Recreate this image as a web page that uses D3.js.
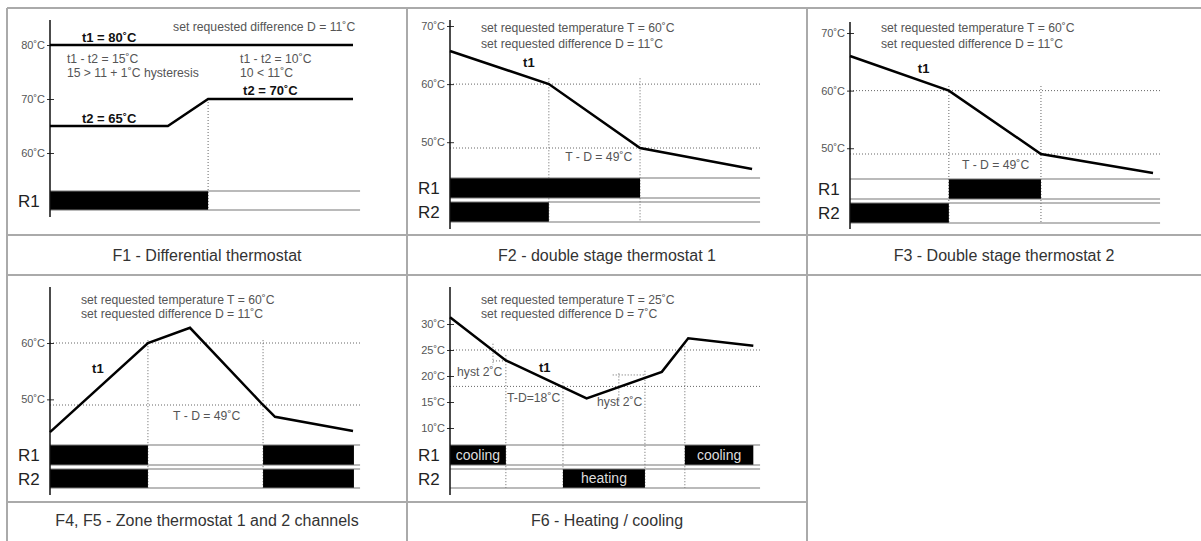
<!DOCTYPE html>
<html><head><meta charset="utf-8">
<script src="https://cdn.jsdelivr.net/npm/d3@7"></script>
<style>body{margin:0;background:#fff}svg{display:block;font-family:"Liberation Sans",Arial,sans-serif}</style>
</head><body>
<script>
// ---------- DATA (time t in % of diagram width, v in °C) ----------
const f1Ticks=[80,70,60];
const f1T1=[[0,80],[98.7,80]];
const f1T2=[[0,65],[38.4,65],[51.5,70],[98.7,70]];
const f1R1=[[0,51.5]];
const f1Guides=[[51.5,70]];
const f1HLines=[];

const f2Ticks=[70,60,50];
const f2T1=[[0,65.7],[32.2,60],[61.9,49],[98.4,45.4]];
const f2R1=[[0,61.9]];
const f2R2=[[0,32.2]];
const f2Guides=[[32.2,61],[61.9,61]];
const f2HLines=[60,49];

const f3Ticks=[70,60,50];
const f3T1=[[0,66.0],[32.2,60],[62.2,49],[98.7,45.7]];
const f3R1=[[32.2,62.2]];
const f3R2=[[0,32.2]];
const f3Guides=[[32.2,60.8],[62.2,60.8]];
const f3HLines=[60,49];

const f4Ticks=[60,50];
const f4T1=[[0,44.2],[31.9,60],[45.6,62.7],[69.4,49],[73.3,46.9],[98.7,44.4]];
const f4R1=[[0,31.9],[69.4,99]];
const f4R2=[[0,31.9],[69.4,99]];
const f4Guides=[[31.9,60.5],[69.4,60.5]];
const f4HLines=[60,49];

const f6Ticks=[30,25,20,15,10];
const f6T1=[[0,31.3],[18.2,23],[44.5,15.7],[69,20.8],[77.6,27.25],[98.8,25.8]];
const f6R1=[[0,18.2,"cooling"],[76.5,98.8,"cooling"]];
const f6R2=[[36.8,63.5,"heating"]];
const f6Guides=[[18.2,24],[36.8,18.8],[63.5,21],[76.5,26.3]];
const f6HLines=[25,18];
const f6Hyst=[[[14,26.2],[14,22.1]],[[14,22.9],[18.2,22.9]],[[55,20.5],[55,15.1]],[[53,20.2],[63.5,20.2]]];

const captions=["F1 - Differential thermostat","F2 - double stage thermostat 1","F3 - Double stage thermostat 2","F4, F5 - Zone thermostat 1 and 2 channels","F6 - Heating / cooling"];

// ---------- LAYOUT ----------
const W=1201,H=541;
const svg=d3.select("body").append("svg").attr("width",W).attr("height",H);
const colX=[7,407,807];
const grid="#aaa";

[[7,8,1201,8],[7,235,1201,235],[7,275,1201,275],[7,502,807,502],
 [7,8,7,541],[407,8,407,541],[807,8,807,541]].forEach(l=>{
  svg.append("line").attr("x1",l[0]).attr("y1",l[1]).attr("x2",l[2]).attr("y2",l[3])
   .attr("stroke",grid).attr("stroke-width",2);
});
[[0,261],[1,261],[2,261],[0,526],[1,526]].forEach((c,i)=>{
  const x0=colX[c[0]], x1=(c[0]===2?1201:colX[c[0]+1]);
  svg.append("text").attr("x",(x0+x1)/2).attr("y",c[1]).attr("text-anchor","middle")
   .attr("font-size",16).attr("fill","#333").text(captions[i]);
});

const panels=[
 {left:7, yDom:[80,60], yRng:[45,153], axis:[20,217], ticks:f1Ticks, lines:[f1T1,f1T2], hl:f1HLines, guides:f1Guides,
  bars:[{name:"R1",y:[191,210],on:f1R1}],
  notes:[["set requested difference D = 11˚C",40.1,82.6,0],["t1 = 80˚C",10.4,80.55,1],["t1 - t2 = 15˚C",5.5,76.67,0],
         ["15 > 11 + 1˚C hysteresis",5.5,74.07,0],["t1 - t2 = 10˚C",61.9,76.67,0],["10 < 11˚C",61.9,74.07,0],
         ["t2 = 70˚C",62.9,70.74,1],["t2 = 65˚C",10.4,65.56,1]]},
 {left:407, yDom:[70,49], yRng:[26,148], axis:[20,229], ticks:f2Ticks, lines:[f2T1], hl:f2HLines, guides:f2Guides,
  bars:[{name:"R1",y:[178,198],on:f2R1},{name:"R2",y:[202,222],on:f2R2}],
  notes:[["set requested temperature T = 60˚C",10.1,69.0,0],["set requested difference D = 11˚C",10.1,66.2,0],
         ["t1",23.8,62.9,1],["T - D = 49˚C",37.5,46.8,0]]},
 {left:807, yDom:[70,49], yRng:[33,154], axis:[22,229], ticks:f3Ticks, lines:[f3T1], hl:f3HLines, guides:f3Guides,
  bars:[{name:"R1",y:[179,199],on:f3R1},{name:"R2",y:[203,223],on:f3R2}],
  notes:[["set requested temperature T = 60˚C",10.1,70.2,0],["set requested difference D = 11˚C",10.1,67.4,0],
         ["t1",22.1,63.1,1],["T - D = 49˚C",36.5,46.4,0]]},
 {left:7, yDom:[60,49], yRng:[343,405], axis:[287,495], ticks:f4Ticks, lines:[f4T1], hl:f4HLines, guides:f4Guides,
  bars:[{name:"R1",y:[445,465],on:f4R1},{name:"R2",y:[469,488],on:f4R2}],
  notes:[["set requested temperature T = 60˚C",10.1,66.9,0],["set requested difference D = 11˚C",10.1,64.4,0],
         ["t1",13.7,54.7,1],["T - D = 49˚C",40.1,46.3,0]]},
 {left:407, yDom:[30,10], yRng:[324,428], axis:[287,495], ticks:f6Ticks, lines:[f6T1], hl:f6HLines, guides:f6Guides, hyst:f6Hyst,
  bars:[{name:"R1",y:[445,465],on:f6R1},{name:"R2",y:[469,488],on:f6R2}],
  notes:[["set requested temperature T = 25˚C",10.1,33.85,0],["set requested difference D = 7˚C",10.1,31.15,0],
         ["hyst 2˚C",2.3,20.0,0],["t1",29,20.77,1],["T-D=18˚C",18.6,15.0,0],["hyst 2˚C",47.9,14.2,0]]}
];

panels.forEach(p=>{
  const g=svg.append("g");
  const x=d3.scaleLinear().domain([0,100]).range([p.left+43,p.left+350]);
  const y=d3.scaleLinear().domain(p.yDom).range(p.yRng);
  const ax=x(0);
  const lastBottom=p.bars[p.bars.length-1].y[1];
  const dotLine=(x1,y1,x2,y2)=>g.append("line").attr("x1",x1).attr("x2",x2).attr("y1",y1).attr("y2",y2)
     .attr("stroke","#666").attr("stroke-width",1).attr("stroke-dasharray","1,2");
  p.hl.forEach(v=>dotLine(ax,y(v),x(101),y(v)));
  p.guides.forEach(d=>dotLine(x(d[0]),y(d[1]),x(d[0]),lastBottom));
  (p.hyst||[]).forEach(s=>dotLine(x(s[0][0]),y(s[0][1]),x(s[1][0]),y(s[1][1])));
  p.bars.forEach(b=>{
    b.on.forEach(s=>{
      g.append("rect").attr("x",x(s[0])).attr("y",b.y[0]).attr("width",x(s[1])-x(s[0])).attr("height",b.y[1]-b.y[0]).attr("fill","#000");
      if(s[2]) g.append("text").attr("x",(x(s[0])+x(s[1]))/2).attr("y",(b.y[0]+b.y[1])/2+4.5).attr("text-anchor","middle")
        .attr("font-size",14).attr("fill","#ddd").text(s[2]);
    });
    [b.y[0],b.y[1]].forEach(yy=>{
      g.append("line").attr("x1",ax).attr("x2",x(101)).attr("y1",yy).attr("y2",yy).attr("stroke","#777").attr("stroke-width",1.2);
    });
    g.append("text").attr("x",p.left+11).attr("y",(b.y[0]+b.y[1])/2+6).attr("font-size",17).attr("fill","#222").text(b.name);
  });
  const axis=d3.axisLeft(y).tickValues(p.ticks).tickSize(3).tickPadding(2).tickFormat(d=>d+"˚C");
  const ag=g.append("g").attr("transform",`translate(${ax},0)`).call(axis);
  ag.select(".domain").remove();
  ag.selectAll(".tick line").attr("x2",4).attr("x1",-3).attr("stroke","#333");
  ag.selectAll(".tick text").attr("font-size",11).attr("fill","#555").attr("font-family","Liberation Sans, Arial, sans-serif");
  g.append("line").attr("x1",ax).attr("x2",ax).attr("y1",p.axis[0]).attr("y2",p.axis[1]).attr("stroke","#111").attr("stroke-width",1.5);
  const line=d3.line().x(d=>x(d[0])).y(d=>y(d[1]));
  p.lines.forEach(l=>{
    g.append("path").datum(l).attr("d",line).attr("fill","none").attr("stroke","#000").attr("stroke-width",2.5);
  });
  p.notes.forEach(n=>{
    g.append("text").attr("x",x(n[1])).attr("y",y(n[2])).attr("font-size",n[3]?13:12.2)
     .attr("font-weight",n[3]?"bold":"normal").attr("fill",n[3]?"#111":"#555").text(n[0]);
  });
});
</script>
</body></html>
